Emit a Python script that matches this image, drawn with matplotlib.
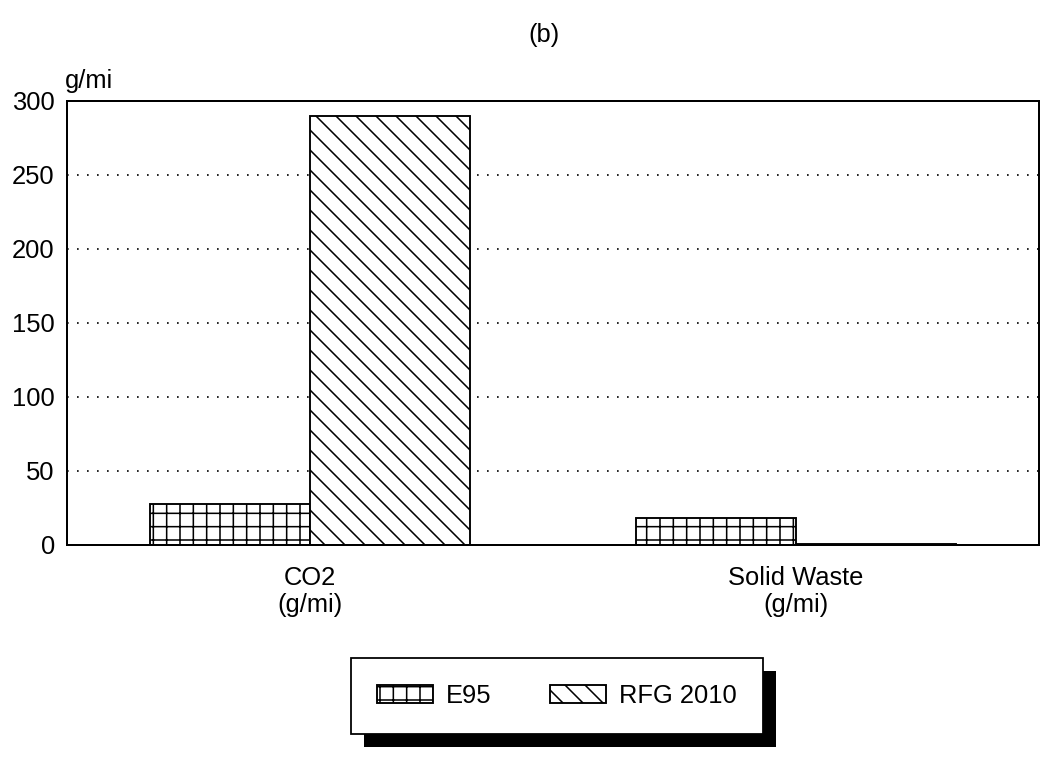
import matplotlib
matplotlib.use('Agg')
import matplotlib.pyplot as plt
import matplotlib.hatch as mhatch
from matplotlib.patches import Rectangle
import numpy as np

categories = ['CO2\n(g/mi)', 'Solid Waste\n(g/mi)']
series_names = ['E95', 'RFG 2010']
e95 = [28, 18]
rfg2010 = [290, 0.5]
yticks = [0, 50, 100, 150, 200, 250, 300]


# diagonal hatch with closer line spacing than the stock '\\' pattern
class DenseSouthEastHatch(mhatch.SouthEastHatch):
    def __init__(self, hatch, density):
        super().__init__(hatch, density)
        self.num_lines = int(hatch.count('\\') * density * 4 / 3)
        self.num_vertices = (self.num_lines + 1) * 2 if self.num_lines else 0


idx = mhatch._hatch_types.index(mhatch.SouthEastHatch)
mhatch._hatch_types[idx] = DenseSouthEastHatch

plt.rcParams['font.family'] = ['Liberation Sans', 'DejaVu Sans']
plt.rcParams['font.size'] = 23
plt.rcParams['hatch.linewidth'] = 1.4

DPI = 80
fig = plt.figure(figsize=(1042 / DPI, 757 / DPI), dpi=DPI)
ax = fig.add_axes([0.0643, 0.2801, 0.9328, 0.5865])

x = np.arange(len(categories))
w = 0.33
ax.bar(x - w / 2, e95, w, facecolor='white', edgecolor='black',
       hatch='+', linewidth=1.7, label=series_names[0])
ax.bar(x + w / 2, rfg2010, w, facecolor='white', edgecolor='black',
       hatch='\\', linewidth=1.7, label=series_names[1])

ax.set_xlim(-0.5, 1.5)
ax.set_ylim(0, 300)
ax.set_yticks(yticks)
ax.set_xticks(x, categories)
ax.tick_params(length=0)
ax.tick_params(axis='y', pad=11)
ax.tick_params(axis='x', pad=19)
for t in ax.get_xticklabels():
    t.set_linespacing(1.15)

ax.yaxis.grid(True, linestyle=(0, (1, 5)), color='black', linewidth=1.5)
ax.set_axisbelow(True)
for s in ax.spines.values():
    s.set_linewidth(1.8)

fig.text(544 / 1042, 1 - 35 / 757, '(b)', ha='center', va='center')
fig.text(65 / 1042, 1 - 88 / 757, 'g/mi', ha='left', va='baseline')

leg = fig.legend(loc='center', bbox_to_anchor=(557 / 1042, 1 - 696 / 757),
                 ncol=2, fancybox=False, edgecolor='black', facecolor='white',
                 framealpha=1, handlelength=2.2, handleheight=0.7,
                 handletextpad=0.5, columnspacing=2.3, borderpad=1.0)
leg.get_frame().set_linewidth(1.6)

# solid drop shadow behind the legend box
fig.canvas.draw()
bb = leg.get_window_extent().transformed(fig.transFigure.inverted())
dx, dy = 13 / 1042, 13 / 757
fig.add_artist(Rectangle((bb.x0 + dx, bb.y0 - dy), bb.width, bb.height,
                         transform=fig.transFigure, facecolor='black',
                         edgecolor='none', zorder=4))

fig.savefig('out.png', dpi=DPI)
